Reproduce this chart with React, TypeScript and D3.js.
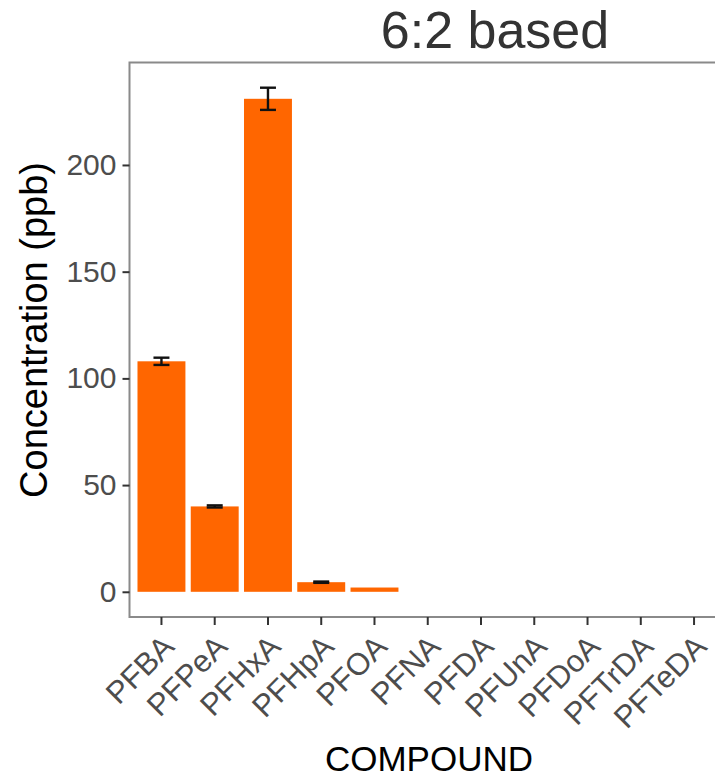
import React, { useEffect, useRef } from 'react';
import * as d3 from 'd3';

// compounds on the x axis
const compounds = ['PFBA', 'PFPeA', 'PFHxA', 'PFHpA', 'PFOA', 'PFNA', 'PFDA', 'PFUnA', 'PFDoA', 'PFTrDA', 'PFTeDA'];
// mean concentration (ppb)
const means = [108, 40, 231, 4.5, 2, 0, 0, 0, 0, 0, 0];
// error (+/-)
const errors = [1.7, 0.5, 5.2, 0.3, 0, 0, 0, 0, 0, 0, 0];
const yTicks = [0, 50, 100, 150, 200];

const App = () => {
    const ref = useRef<SVGSVGElement>(null);

    useEffect(() => {
        const width = 715;
        const height = 781;
        const svg = d3.select(ref.current);
        svg.selectAll('*').remove();

        // panel box (right edge runs past the picture)
        const panel = { left: 129.5, right: 726, top: 62.5, bottom: 617 };
        const font = '"Liberation Sans", Arial, sans-serif';

        const yMax = d3.max(means, (d, i) => d + errors[i]) as number;
        const pad = yMax * 0.05;
        const yScale = d3.scaleLinear()
            .domain([-pad, yMax + pad])
            .range([panel.bottom, panel.top]);

        const xScale = d3.scaleBand<string>()
            .domain(compounds)
            .range([panel.left, panel.right])
            .paddingInner(0)
            .paddingOuter(0.1);
        const step = xScale.step();
        const cx = (c: string) => (xScale(c) as number) + xScale.bandwidth() / 2;

        // bars
        svg.append('g')
            .selectAll('rect')
            .data(compounds)
            .enter()
            .append('rect')
            .attr('x', d => cx(d) - step * 0.45)
            .attr('width', step * 0.9)
            .attr('y', (d, i) => yScale(means[i]))
            .attr('height', (d, i) => yScale(0) - yScale(means[i]))
            .attr('fill', '#ff6600');

        // error bars
        const eb = svg.append('g')
            .attr('stroke', '#111')
            .attr('stroke-width', 2.4)
            .selectAll('g')
            .data(compounds.filter((d, i) => means[i] > 0 && errors[i] > 0))
            .enter()
            .append('g');
        const idx = (d: string) => compounds.indexOf(d);
        const half = step * 0.15;
        eb.append('line')
            .attr('x1', cx).attr('x2', cx)
            .attr('y1', d => yScale(means[idx(d)] - errors[idx(d)]))
            .attr('y2', d => yScale(means[idx(d)] + errors[idx(d)]));
        eb.append('line')
            .attr('x1', d => cx(d) - half).attr('x2', d => cx(d) + half)
            .attr('y1', d => yScale(means[idx(d)] + errors[idx(d)]))
            .attr('y2', d => yScale(means[idx(d)] + errors[idx(d)]));
        eb.append('line')
            .attr('x1', d => cx(d) - half).attr('x2', d => cx(d) + half)
            .attr('y1', d => yScale(means[idx(d)] - errors[idx(d)]))
            .attr('y2', d => yScale(means[idx(d)] - errors[idx(d)]));

        // panel border
        svg.append('rect')
            .attr('x', panel.left)
            .attr('y', panel.top)
            .attr('width', panel.right - panel.left)
            .attr('height', panel.bottom - panel.top)
            .attr('fill', 'none')
            .attr('stroke', '#8a8a8a')
            .attr('stroke-width', 2);

        // y axis
        const yAxis = d3.axisLeft(yScale).tickValues(yTicks).tickSize(7).tickPadding(6);
        const gY = svg.append('g')
            .attr('transform', `translate(${panel.left}, 0)`)
            .call(yAxis);
        gY.select('.domain').remove();
        gY.selectAll('line').attr('stroke', '#333').attr('stroke-width', 2);
        gY.selectAll('text')
            .attr('font-family', font)
            .attr('font-size', 30)
            .attr('fill', '#4d4d4d');

        // x axis
        const xAxis = d3.axisBottom(xScale).tickSize(8).tickFormat(() => '');
        const gX = svg.append('g')
            .attr('transform', `translate(0, ${panel.bottom})`)
            .call(xAxis);
        gX.select('.domain').remove();
        gX.selectAll('line').attr('stroke', '#333').attr('stroke-width', 2);

        svg.append('g')
            .selectAll('text')
            .data(compounds)
            .enter()
            .append('text')
            .attr('transform', d => `translate(${cx(d) + 7}, ${panel.bottom + 24}) rotate(-45)`)
            .attr('text-anchor', 'end')
            .attr('dominant-baseline', 'central')
            .attr('font-family', font)
            .attr('font-size', 31)
            .attr('fill', '#4d4d4d')
            .text(d => d);

        // axis titles
        svg.append('text')
            .attr('x', (330 + 528) / 2)
            .attr('y', 771)
            .attr('text-anchor', 'middle')
            .attr('font-family', font)
            .attr('font-size', 35)
            .attr('fill', '#000')
            .text('COMPOUND');

        svg.append('text')
            .attr('transform', `translate(47, ${(163 + 497) / 2}) rotate(-90)`)
            .attr('text-anchor', 'middle')
            .attr('font-family', font)
            .attr('font-size', 38)
            .attr('fill', '#000')
            .text('Concentration (ppb)');

        // title
        svg.append('text')
            .attr('x', 495)
            .attr('y', 48)
            .attr('text-anchor', 'middle')
            .attr('font-family', font)
            .attr('font-size', 52)
            .attr('fill', '#333')
            .text('6:2 based');

        svg.attr('width', width).attr('height', height);
    }, []);

    return (
        <div className="BarChart">
            <svg ref={ref} width={715} height={781}
                style={{ position: 'absolute', left: 0, top: 0, background: '#fff' }} />
        </div>
    );
};

export default App;
